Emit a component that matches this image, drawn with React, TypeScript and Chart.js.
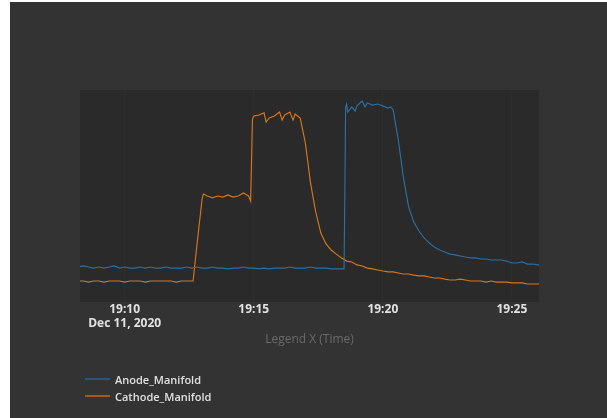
import React, { useEffect, useRef } from "react";
import { Chart, registerables } from "chart.js";

Chart.register(...registerables);

// Minutes after 19:00 on Dec 11, 2020
const seriesNames = ["Anode_Manifold", "Cathode_Manifold"];

const anodeTimes = [
  8.2, 8.4, 8.6, 8.8, 9.0, 9.2, 9.4, 9.6, 9.8, 10.0,
  10.2, 10.4, 10.6, 10.8, 11.0, 11.2, 11.4, 11.6, 11.8, 12.0,
  12.2, 12.4, 12.6, 12.8, 13.0, 13.2, 13.4, 13.6, 13.8, 14.0,
  14.2, 14.4, 14.6, 14.8, 15.0, 15.2, 15.4, 15.6, 15.8, 16.0,
  16.2, 16.4, 16.6, 16.8, 17.0, 17.2, 17.4, 17.6, 17.8, 18.0,
  18.2, 18.4,
  18.5, 18.56, 18.6, 18.64, 18.8, 18.93, 19.0, 19.2, 19.31, 19.4,
  19.6, 19.8, 20.0, 20.2, 20.31, 20.4,
  20.6, 20.8, 21.0, 21.2, 21.4, 21.6, 21.8, 22.0, 22.2, 22.4,
  22.6, 22.8, 23.0, 23.2, 23.4, 23.6, 23.8, 24.0, 24.2, 24.4,
  24.6, 24.8, 25.0, 25.2, 25.4, 25.6, 25.8, 26.0, 26.2,
];
const anodeValues = [
  16.5, 17.0, 16.5, 16.0, 16.5, 16.0, 16.5, 17.0, 16.0, 16.5,
  16.0, 16.0, 16.5, 16.0, 16.5, 16.0, 16.0, 16.5, 16.0, 16.0,
  16.0, 16.5, 16.0, 16.5, 16.0, 16.0, 16.5, 16.0, 16.0, 15.6,
  16.0, 16.0, 16.5, 16.0, 16.0, 15.6, 16.0, 15.6, 16.0, 16.0,
  16.0, 16.5, 16.0, 16.0, 16.0, 16.5, 16.0, 16.0, 16.0, 15.6,
  15.6, 15.6,
  15.6, 92.0, 93.4, 89.6, 92.0, 90.1, 92.5, 94.8, 92.0, 93.9,
  92.9, 93.4, 92.5, 91.5, 92.0, 90.6,
  76.4, 58.5, 44.8, 37.7, 33.5, 30.2, 27.8, 25.9, 24.5, 23.6,
  22.6, 22.2, 21.7, 21.2, 20.8, 20.8, 20.3, 20.3, 19.8, 19.8,
  19.8, 19.3, 18.4, 18.4, 18.9, 17.9, 17.9, 17.5, 17.5,
];

const cathodeTimes = [
  8.2, 8.4, 8.6, 8.8, 9.0, 9.2, 9.4, 9.6, 9.8, 10.0,
  10.2, 10.4, 10.6, 10.8, 11.0, 11.2, 11.4, 11.6, 11.8, 12.0,
  12.2, 12.4, 12.6,
  12.65, 12.8, 13.0, 13.05, 13.2, 13.4, 13.6, 13.8, 14.0, 14.2,
  14.4, 14.6, 14.8, 14.88, 14.95, 15.0, 15.2, 15.4, 15.48, 15.6,
  15.8, 16.0, 16.1, 16.2, 16.4, 16.52, 16.6, 16.8, 17.0,
  17.2, 17.4, 17.6, 17.8, 18.0, 18.2, 18.4, 18.6, 18.8, 19.0,
  19.2, 19.4, 19.6, 19.8, 20.0, 20.2, 20.4, 20.6, 20.8, 21.0,
  21.2, 21.4, 21.6, 21.8, 22.0, 22.2, 22.4, 22.6, 22.8, 23.0,
  23.2, 23.4, 23.6, 23.8, 24.0, 24.2, 24.4, 24.6, 24.8, 25.0,
  25.2, 25.4, 25.6, 25.8, 26.0, 26.2,
];
const cathodeValues = [
  9.9, 9.9, 9.4, 9.9, 9.9, 9.4, 9.9, 9.9, 9.9, 9.4,
  9.9, 9.9, 9.9, 9.4, 9.9, 9.9, 9.9, 9.9, 9.9, 9.4,
  9.9, 9.9, 9.9,
  9.9, 26.9, 48.6, 50.9, 50.0, 49.1, 50.0, 49.5, 50.5, 49.5,
  50.0, 51.4, 50.0, 47.6, 86.3, 87.7, 88.2, 89.2, 84.9, 86.8,
  87.7, 89.6, 85.8, 88.2, 89.6, 85.8, 88.7, 86.8, 75.0,
  56.1, 42.5, 32.5, 27.4, 24.5, 22.6, 20.8, 19.3, 18.9, 17.5,
  17.0, 16.0, 15.6, 15.1, 14.6, 14.2, 14.2, 13.7, 13.2, 13.2,
  12.7, 12.3, 12.3, 11.8, 11.3, 11.3, 10.8, 10.4, 10.4, 10.8,
  10.4, 9.9, 9.9, 9.9, 9.4, 9.9, 9.4, 9.4, 9.4, 9.0,
  9.0, 9.0, 8.5, 8.5, 8.5, 9.0,
];

const tickValues = [10, 15, 20, 25];
const tickLabels = [["19:10", "Dec 11, 2020"], ["19:15"], ["19:20"], ["19:25"]];
const xMin = 8.27;
const xMax = 26.05;
const axisTitle = "Legend X (Time)";

const lineColors = ["#2a70a3", "#d8761c"];
const legendColors = ["#2c5676", "#a55a1c"];
const FONT = "'Open Sans', 'Noto Sans', sans-serif";

const plotBg = {
  id: "plotBg",
  beforeDraw(chart: any) {
    const { ctx, chartArea } = chart;
    if (!chartArea) return;
    ctx.save();
    ctx.fillStyle = "#2a2a2a";
    ctx.fillRect(chartArea.left, chartArea.top, chartArea.right - chartArea.left, chartArea.bottom - chartArea.top);
    ctx.restore();
  },
};

export default function App() {
  const ref = useRef<HTMLCanvasElement | null>(null);

  useEffect(() => {
    if (!ref.current) return;
    const toPoints = (ts: number[], vs: number[]) => ts.map((t, i) => ({ x: t, y: vs[i] }));
    const chart = new Chart(ref.current, {
      type: "line",
      data: {
        datasets: [
          {
            label: seriesNames[0],
            data: toPoints(anodeTimes, anodeValues),
            borderColor: lineColors[0],
            borderWidth: 1.15,
            pointRadius: 0,
            tension: 0,
          },
          {
            label: seriesNames[1],
            data: toPoints(cathodeTimes, cathodeValues),
            borderColor: lineColors[1],
            borderWidth: 1.15,
            pointRadius: 0,
            tension: 0,
          },
        ],
      },
      options: {
        animation: false,
        responsive: false,
        maintainAspectRatio: false,
        layout: { padding: { left: 70, right: 68, top: 88, bottom: 66 } },
        plugins: { legend: { display: false }, tooltip: { enabled: false } },
        scales: {
          x: {
            type: "linear",
            min: xMin,
            max: xMax,
            afterBuildTicks: (scale: any) => {
              scale.ticks = tickValues.map((v) => ({ value: v }));
            },
            afterFit: (scale: any) => {
              scale.height = 50;
            },
            ticks: {
              autoSkip: false,
              maxRotation: 0,
              padding: 1,
              color: "#e2e2e2",
              font: { family: FONT, size: 12, weight: "bold", lineHeight: 1.12 },
              callback: (_v: any, i: number) => tickLabels[i],
            },
            grid: { color: "rgba(255,255,255,0.02)", drawTicks: false },
            border: { display: false },
            title: {
              display: true,
              text: axisTitle,
              color: "#6a6a6a",
              font: { family: FONT, size: 12 },
              padding: { top: 0, bottom: 5 },
            },
          },
          y: { display: false, min: 0, max: 100 },
        },
      },
      plugins: [plotBg],
    } as any);
    return () => chart.destroy();
  }, []);

  const legendItem = (i: number, top: number) => (
    <div key={i} style={{ position: "absolute", left: 75, top: top - 8, height: 16, display: "flex", alignItems: "center" }}>
      <div style={{ width: 25, height: 2, background: legendColors[i] }} />
      <span style={{ marginLeft: 5, color: "#e0e0e0", fontFamily: FONT, fontSize: 11, fontWeight: 600, whiteSpace: "nowrap" }}>
        {seriesNames[i]}
      </span>
    </div>
  );

  return (
    <div style={{ position: "fixed", left: 10, top: 2, width: 597, height: 416, background: "#333333", overflow: "hidden" }}>
      <canvas ref={ref} width={597} height={416} style={{ display: "block" }} />
      {legendItem(0, 377)}
      {legendItem(1, 394)}
    </div>
  );
}
